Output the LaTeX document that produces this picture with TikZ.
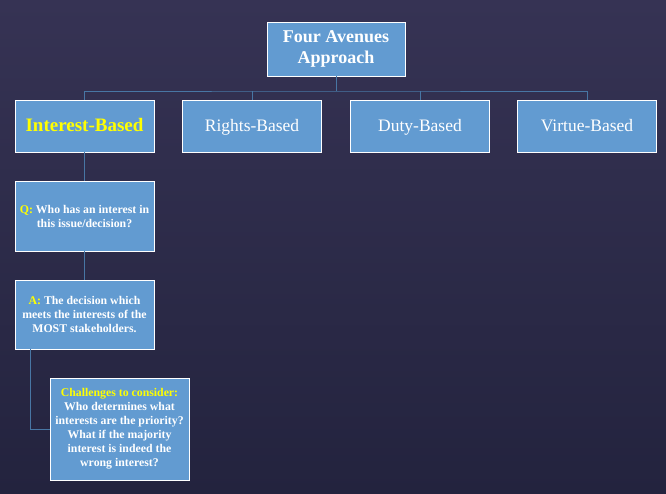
\documentclass[tikz,border=0pt]{standalone}
\usepackage{fontspec}
\setmainfont{Liberation Serif}
\usetikzlibrary{positioning}
\definecolor{bgtop}{RGB}{54,51,84}
\definecolor{bgbot}{RGB}{35,35,62}
\definecolor{boxfill}{RGB}{98,155,209}
\definecolor{linkcol}{RGB}{72,118,164}
\definecolor{hilite}{RGB}{255,255,0}
\begin{document}
\begin{tikzpicture}[x=1pt,y=-1pt,
  avenue/.style={draw=white,line width=0.8pt,fill=boxfill,text=white,
    minimum width=139pt,minimum height=52pt,inner sep=2pt,
    text height=12pt,text depth=0.5pt,font=\fontsize{17.5}{20}\selectfont},
  note/.style={draw=white,line width=0.8pt,fill=boxfill,text=white,align=center,
    minimum width=139pt,inner sep=2pt,font=\bfseries\fontsize{11.8}{14}\selectfont},
  link/.style={draw=linkcol,line width=0.9pt}]
\shade [top color=bgtop,bottom color=bgbot] (0,0) rectangle (666,494);
\useasboundingbox (0,0) rectangle (666,494);
\node [avenue,minimum width=138pt,minimum height=54pt,align=center,text height=,text depth=,
  font=\bfseries\fontsize{18}{21.5}\selectfont] (top) at (336,49) {Four Avenues\\Approach};
\node [avenue,text=hilite,font=\bfseries\fontsize{19}{22}\selectfont] (interest) at (84.5,126) {Interest-Based};
\node [avenue] (rights) at (252,126) {Rights-Based};
\node [avenue] (duty) at (420,126) {Duty-Based};
\node [avenue] (virtue) at (587,126) {Virtue-Based};
\node [note,minimum height=70pt] (question) at (84.5,216)
  {\textcolor{hilite}{Q:} Who has an interest in\\this issue/decision?};
\node [note,minimum height=69pt] (answer) at (84.5,314.5)
  {\textcolor{hilite}{A:} The decision which\\meets the interests of the\\MOST stakeholders.};
\node [note,minimum height=102pt] (challenge) at (119.5,429)
  {\textcolor{hilite}{Challenges to consider:}\\Who determines what\\interests are the priority?\\What if the majority\\interest is indeed the\\wrong interest?};
\coordinate (bus) at (336,91);
\draw [link] (top.south) -- (bus);
\draw [link] (interest.north) |- (bus) -| (virtue.north);
\draw [link] (rights.north) -- (rights.north |- bus);
\draw [link] (duty.north) -- (duty.north |- bus);
\draw [link] (interest.south) -- (question.north);
\draw [link] (question.south) -- (answer.north);
\draw [link] (answer.south -| 30,0) |- (challenge.west);
\end{tikzpicture}
\end{document}
